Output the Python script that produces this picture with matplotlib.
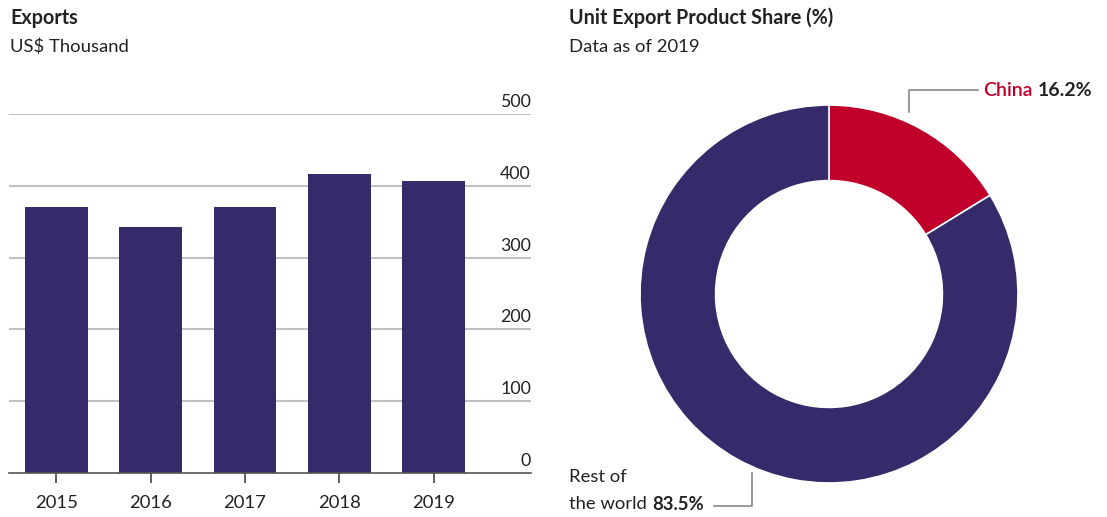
import matplotlib
matplotlib.use("Agg")
import matplotlib.pyplot as plt
from matplotlib.lines import Line2D

plt.rcParams['font.family'] = ['Lato', 'DejaVu Sans']

# data
years = ['2015', '2016', '2017', '2018', '2019']
exports = [370, 342, 370, 416, 407]
y_ticks = [0, 100, 200, 300, 400, 500]

share_labels = ['China', 'Rest of the world']
share_values = [16.2, 83.5]

NAVY = '#362a6b'
RED = '#c0002a'
DARK = '#222222'
GRID = '#c0c0c0'

W, H = 1107, 517
fig = plt.figure(figsize=(W / 100, H / 100), dpi=100)


def fx(x):
    return x / W


def fy(y):
    return 1 - y / H


# -------------------------
# bar chart
# -------------------------
ax = fig.add_axes([fx(9), fy(473), fx(531 - 9), fy(114) - fy(473)])
xpos = list(range(len(years)))
ax.bar(xpos, exports, width=0.667, color=NAVY, zorder=2)
ax.set_xlim(-0.5, 5.03)
ax.set_ylim(0, 500)
for t in y_ticks[1:]:
    ax.axhline(t, color=GRID, lw=1.5, zorder=1)
for t in y_ticks:
    ax.annotate(str(t), xy=(1, t), xycoords=('axes fraction', 'data'),
                xytext=(0, 5), textcoords='offset points',
                ha='right', va='baseline', fontsize=12.8, color=DARK)
ax.set_yticks([])
ax.set_xticks(xpos)
ax.set_xticklabels(years, fontsize=13.3, color=DARK)
ax.tick_params(axis='x', length=7, width=1.2, color='#444444', pad=9)
for s in ['top', 'left', 'right']:
    ax.spines[s].set_visible(False)
ax.spines['bottom'].set_color('#555555')
ax.spines['bottom'].set_linewidth(1.2)
ax.spines['bottom'].set_zorder(3)
ax.patch.set_alpha(0)

fig.text(fx(10), fy(18), 'Exports', fontsize=14.2, fontweight='bold',
         color=DARK, va='center', ha='left')
fig.text(fx(10), fy(47), 'US$ Thousand', fontsize=13.3,
         color=DARK, va='center', ha='left')

# -------------------------
# donut chart
# -------------------------
r = 189
pax = fig.add_axes([fx(829 - r), fy(294 + r), fx(2 * r), fy(294 - r) - fy(294 + r)])
pax.pie(share_values, colors=[RED, NAVY], startangle=90, counterclock=False,
        radius=1, wedgeprops=dict(width=0.4, edgecolor='white', linewidth=1.2))
pax.set_xlim(-1, 1)
pax.set_ylim(-1, 1)
pax.set_aspect('auto')
pax.axis('off')

fig.text(fx(569), fy(18), 'Unit Export Product Share (%)', fontsize=14.2,
         fontweight='bold', color=DARK, va='center', ha='left')
fig.text(fx(569), fy(47), 'Data as of 2019', fontsize=13.3,
         color=DARK, va='center', ha='left')

# leader lines
lc = '#888888'
fig.add_artist(Line2D([fx(909), fx(909), fx(978)], [fy(112), fy(90), fy(90)],
                      color=lc, lw=1.2))
fig.add_artist(Line2D([fx(752), fx(752), fx(714)], [fy(473), fy(506), fy(506)],
                      color=lc, lw=1.2))

t1 = fig.text(fx(983), fy(90), 'China', fontsize=14, color=RED,
              va='center', ha='left', fontweight='semibold')
fig.text(fx(569), fy(477), 'Rest of', fontsize=13.3, color=DARK,
         va='center', ha='left')
t2 = fig.text(fx(569), fy(504), 'the world', fontsize=13.3, color=DARK,
              va='center', ha='left')

fig.canvas.draw()
rend = fig.canvas.get_renderer()
e1 = t1.get_window_extent(rend)
fig.text(fx(e1.x1 + 5), fy(90), f'{share_values[0]}%', fontsize=14,
         fontweight='bold', color=DARK, va='center', ha='left')
e2 = t2.get_window_extent(rend)
fig.text(fx(e2.x1 + 5), fy(504), f'{share_values[1]}%', fontsize=13.3,
         fontweight='bold', color=DARK, va='center', ha='left')

fig.savefig('out.png', dpi=100)
